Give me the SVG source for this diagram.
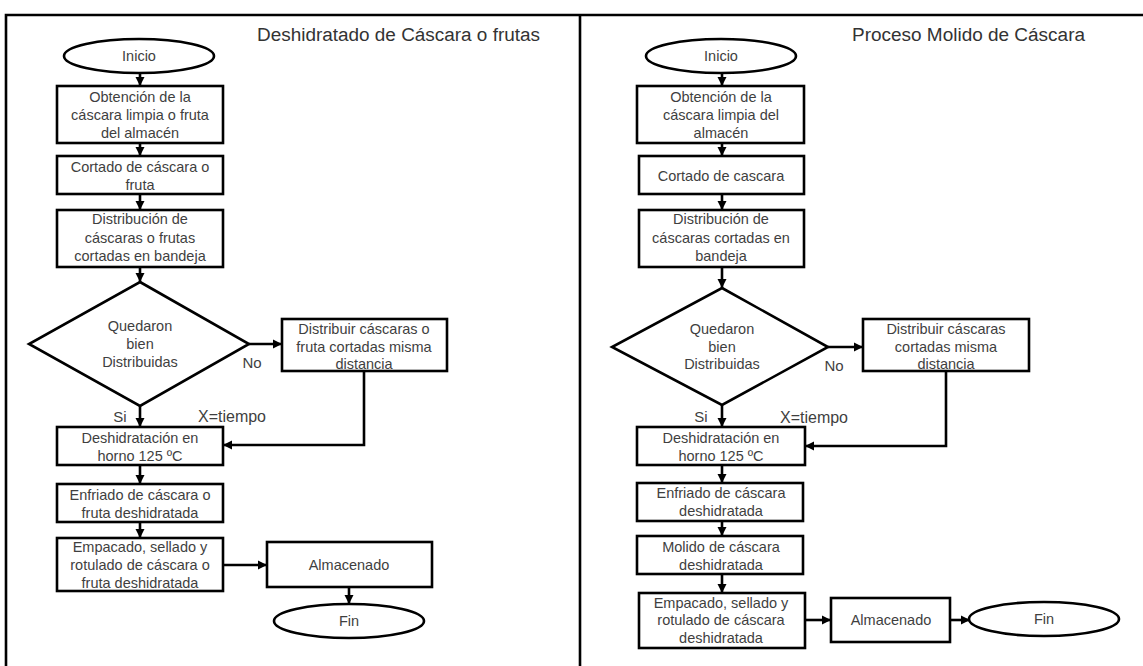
<svg xmlns="http://www.w3.org/2000/svg" width="1143" height="666" viewBox="0 0 1143 666">
<defs>
<style>
.n{fill:#fff;stroke:#000;stroke-width:2.6}
.t{font-family:"Liberation Sans",Arial,sans-serif;font-size:14.5px;fill:#3f3f3f;text-anchor:middle}
.ttl{font-family:"Liberation Sans",Arial,sans-serif;font-size:18px;fill:#333}
.lb{font-family:"Liberation Sans",Arial,sans-serif;font-size:15px;fill:#3f3f3f;text-anchor:middle}
.c{fill:none;stroke:#000;stroke-width:2.6;marker-end:url(#ah)}
.fr{fill:none;stroke:#000;stroke-width:2.6}
</style>
<marker id="ah" markerUnits="userSpaceOnUse" markerWidth="10" markerHeight="10" refX="9" refY="5" orient="auto">
<path d="M0,0.5 L9,5 L0,9.5 Z" fill="#000"/>
</marker>
</defs>
<rect width="1143" height="666" fill="#fff"/>
<g id="frame">
<path class="fr" d="M6,666 V15 H1143"/>
<line class="fr" x1="580" y1="15" x2="580" y2="666"/>
</g>
<text class="ttl" x="257" y="41" textLength="283" lengthAdjust="spacingAndGlyphs">Deshidratado de Cáscara o frutas</text>
<text class="ttl" x="852" y="41" textLength="233" lengthAdjust="spacingAndGlyphs">Proceso Molido de Cáscara</text>

<g id="connectors">
<line class="c" x1="140" y1="73" x2="140" y2="86"/>
<line class="c" x1="140" y1="143" x2="140" y2="156"/>
<line class="c" x1="140" y1="194" x2="140" y2="210"/>
<line class="c" x1="140" y1="267" x2="140" y2="282"/>
<line class="c" x1="249" y1="344" x2="282" y2="344"/>
<line class="c" x1="140" y1="406" x2="140" y2="427"/>
<polyline class="c" points="364,371 364,445 223,445"/>
<line class="c" x1="140" y1="465" x2="140" y2="484"/>
<line class="c" x1="140" y1="522" x2="140" y2="538"/>
<line class="c" x1="223" y1="565" x2="267" y2="565"/>
<line class="c" x1="349" y1="587" x2="349" y2="604"/>

<line class="c" x1="722" y1="73" x2="722" y2="86"/>
<line class="c" x1="722" y1="143" x2="722" y2="156"/>
<line class="c" x1="722" y1="194" x2="722" y2="210"/>
<line class="c" x1="722" y1="267" x2="722" y2="288"/>
<line class="c" x1="828" y1="347" x2="863" y2="347"/>
<line class="c" x1="722" y1="405" x2="722" y2="427"/>
<polyline class="c" points="946,371 946,446 805,446"/>
<line class="c" x1="722" y1="465" x2="722" y2="483"/>
<line class="c" x1="722" y1="521" x2="722" y2="536"/>
<line class="c" x1="722" y1="574" x2="722" y2="593"/>
<line class="c" x1="805" y1="620" x2="831" y2="620"/>
<line class="c" x1="950" y1="620" x2="970" y2="620"/>
</g>

<g id="labels">
<text class="lb" x="252" y="368">No</text>
<text class="lb" x="120" y="422">Si</text>
<text class="lb" x="232" y="422" style="font-size:16px">X=tiempo</text>
<text class="lb" x="834" y="371">No</text>
<text class="lb" x="701" y="422">Si</text>
<text class="lb" x="814" y="423" style="font-size:16px">X=tiempo</text>
</g>

<!-- Left panel -->
<g id="inicioL"><ellipse class="n" cx="139" cy="56" rx="75" ry="17"/><text class="t" x="139" y="61">Inicio</text></g>
<g id="obtL"><rect class="n" x="57" y="86" width="166" height="57"/>
<text class="t" x="140" y="102">Obtención  de la</text><text class="t" x="140" y="120">cáscara limpia o fruta</text><text class="t" x="140" y="138">del almacén</text></g>
<g id="cortL"><rect class="n" x="57" y="156" width="166" height="38"/>
<text class="t" x="140" y="172">Cortado de cáscara o</text><text class="t" x="140" y="190">fruta</text></g>
<g id="distL"><rect class="n" x="57" y="210" width="166" height="57"/>
<text class="t" x="140" y="224">Distribución de</text><text class="t" x="140" y="243">cáscaras o frutas</text><text class="t" x="140" y="261">cortadas en bandeja</text></g>
<g id="decL"><polygon class="n" points="140,282 249,344 140,406 29,344"/>
<text class="t" x="140" y="331">Quedaron</text><text class="t" x="140" y="349">bien</text><text class="t" x="140" y="367">Distribuidas</text></g>
<g id="redistL"><rect class="n" x="282" y="319" width="165" height="52"/>
<text class="t" x="364" y="334">Distribuir cáscaras o</text><text class="t" x="364" y="352">fruta cortadas misma</text><text class="t" x="364" y="369">distancia</text></g>
<g id="deshL"><rect class="n" x="57" y="427" width="166" height="38"/>
<text class="t" x="140" y="443">Deshidratación en</text><text class="t" x="140" y="461">horno 125 ºC</text></g>
<g id="enfL"><rect class="n" x="57" y="484" width="166" height="38"/>
<text class="t" x="140" y="500">Enfriado de cáscara o</text><text class="t" x="140" y="518">fruta deshidratada</text></g>
<g id="empL"><rect class="n" x="57" y="538" width="166" height="53"/>
<text class="t" x="140" y="552">Empacado, sellado y</text><text class="t" x="140" y="570">rotulado de cáscara o</text><text class="t" x="140" y="588">fruta deshidratada</text></g>
<g id="almL"><rect class="n" x="267" y="542" width="165" height="45"/>
<text class="t" x="349" y="570">Almacenado</text></g>
<g id="finL"><ellipse class="n" cx="349" cy="621" rx="75" ry="17"/><text class="t" x="349" y="626">Fin</text></g>

<!-- Right panel -->
<g id="inicioR"><ellipse class="n" cx="721" cy="56" rx="75" ry="17"/><text class="t" x="721" y="61">Inicio</text></g>
<g id="obtR"><rect class="n" x="637" y="86" width="167" height="57"/>
<text class="t" x="721" y="102">Obtención  de la</text><text class="t" x="721" y="120">cáscara limpia del</text><text class="t" x="721" y="138">almacén</text></g>
<g id="cortR"><rect class="n" x="639" y="156" width="165" height="38"/>
<text class="t" x="721" y="181">Cortado de cascara</text></g>
<g id="distR"><rect class="n" x="639" y="210" width="165" height="57"/>
<text class="t" x="721" y="224">Distribución de</text><text class="t" x="721" y="243">cáscaras cortadas en</text><text class="t" x="721" y="261">bandeja</text></g>
<g id="decR"><polygon class="n" points="722,288 828,347 722,405 612,347"/>
<text class="t" x="722" y="334">Quedaron</text><text class="t" x="722" y="352">bien</text><text class="t" x="722" y="369">Distribuidas</text></g>
<g id="redistR"><rect class="n" x="863" y="319" width="166" height="52"/>
<text class="t" x="946" y="334">Distribuir cáscaras</text><text class="t" x="946" y="352">cortadas misma</text><text class="t" x="946" y="369">distancia</text></g>
<g id="deshR"><rect class="n" x="637" y="427" width="168" height="38"/>
<text class="t" x="721" y="443">Deshidratación en</text><text class="t" x="721" y="461">horno 125 ºC</text></g>
<g id="enfR"><rect class="n" x="637" y="483" width="166" height="38"/>
<text class="t" x="721" y="498">Enfriado de cáscara</text><text class="t" x="721" y="516">deshidratada</text></g>
<g id="molR"><rect class="n" x="637" y="536" width="166" height="38"/>
<text class="t" x="721" y="552">Molido de cáscara</text><text class="t" x="721" y="570">deshidratada</text></g>
<g id="empR"><rect class="n" x="639" y="593" width="166" height="55"/>
<text class="t" x="721" y="608">Empacado, sellado y</text><text class="t" x="721" y="625">rotulado de cáscara</text><text class="t" x="721" y="643">deshidratada</text></g>
<g id="almR"><rect class="n" x="831" y="598" width="119" height="44"/>
<text class="t" x="891" y="625">Almacenado</text></g>
<g id="finR"><ellipse class="n" cx="1044" cy="619" rx="75" ry="17"/><text class="t" x="1044" y="624">Fin</text></g>
</svg>
